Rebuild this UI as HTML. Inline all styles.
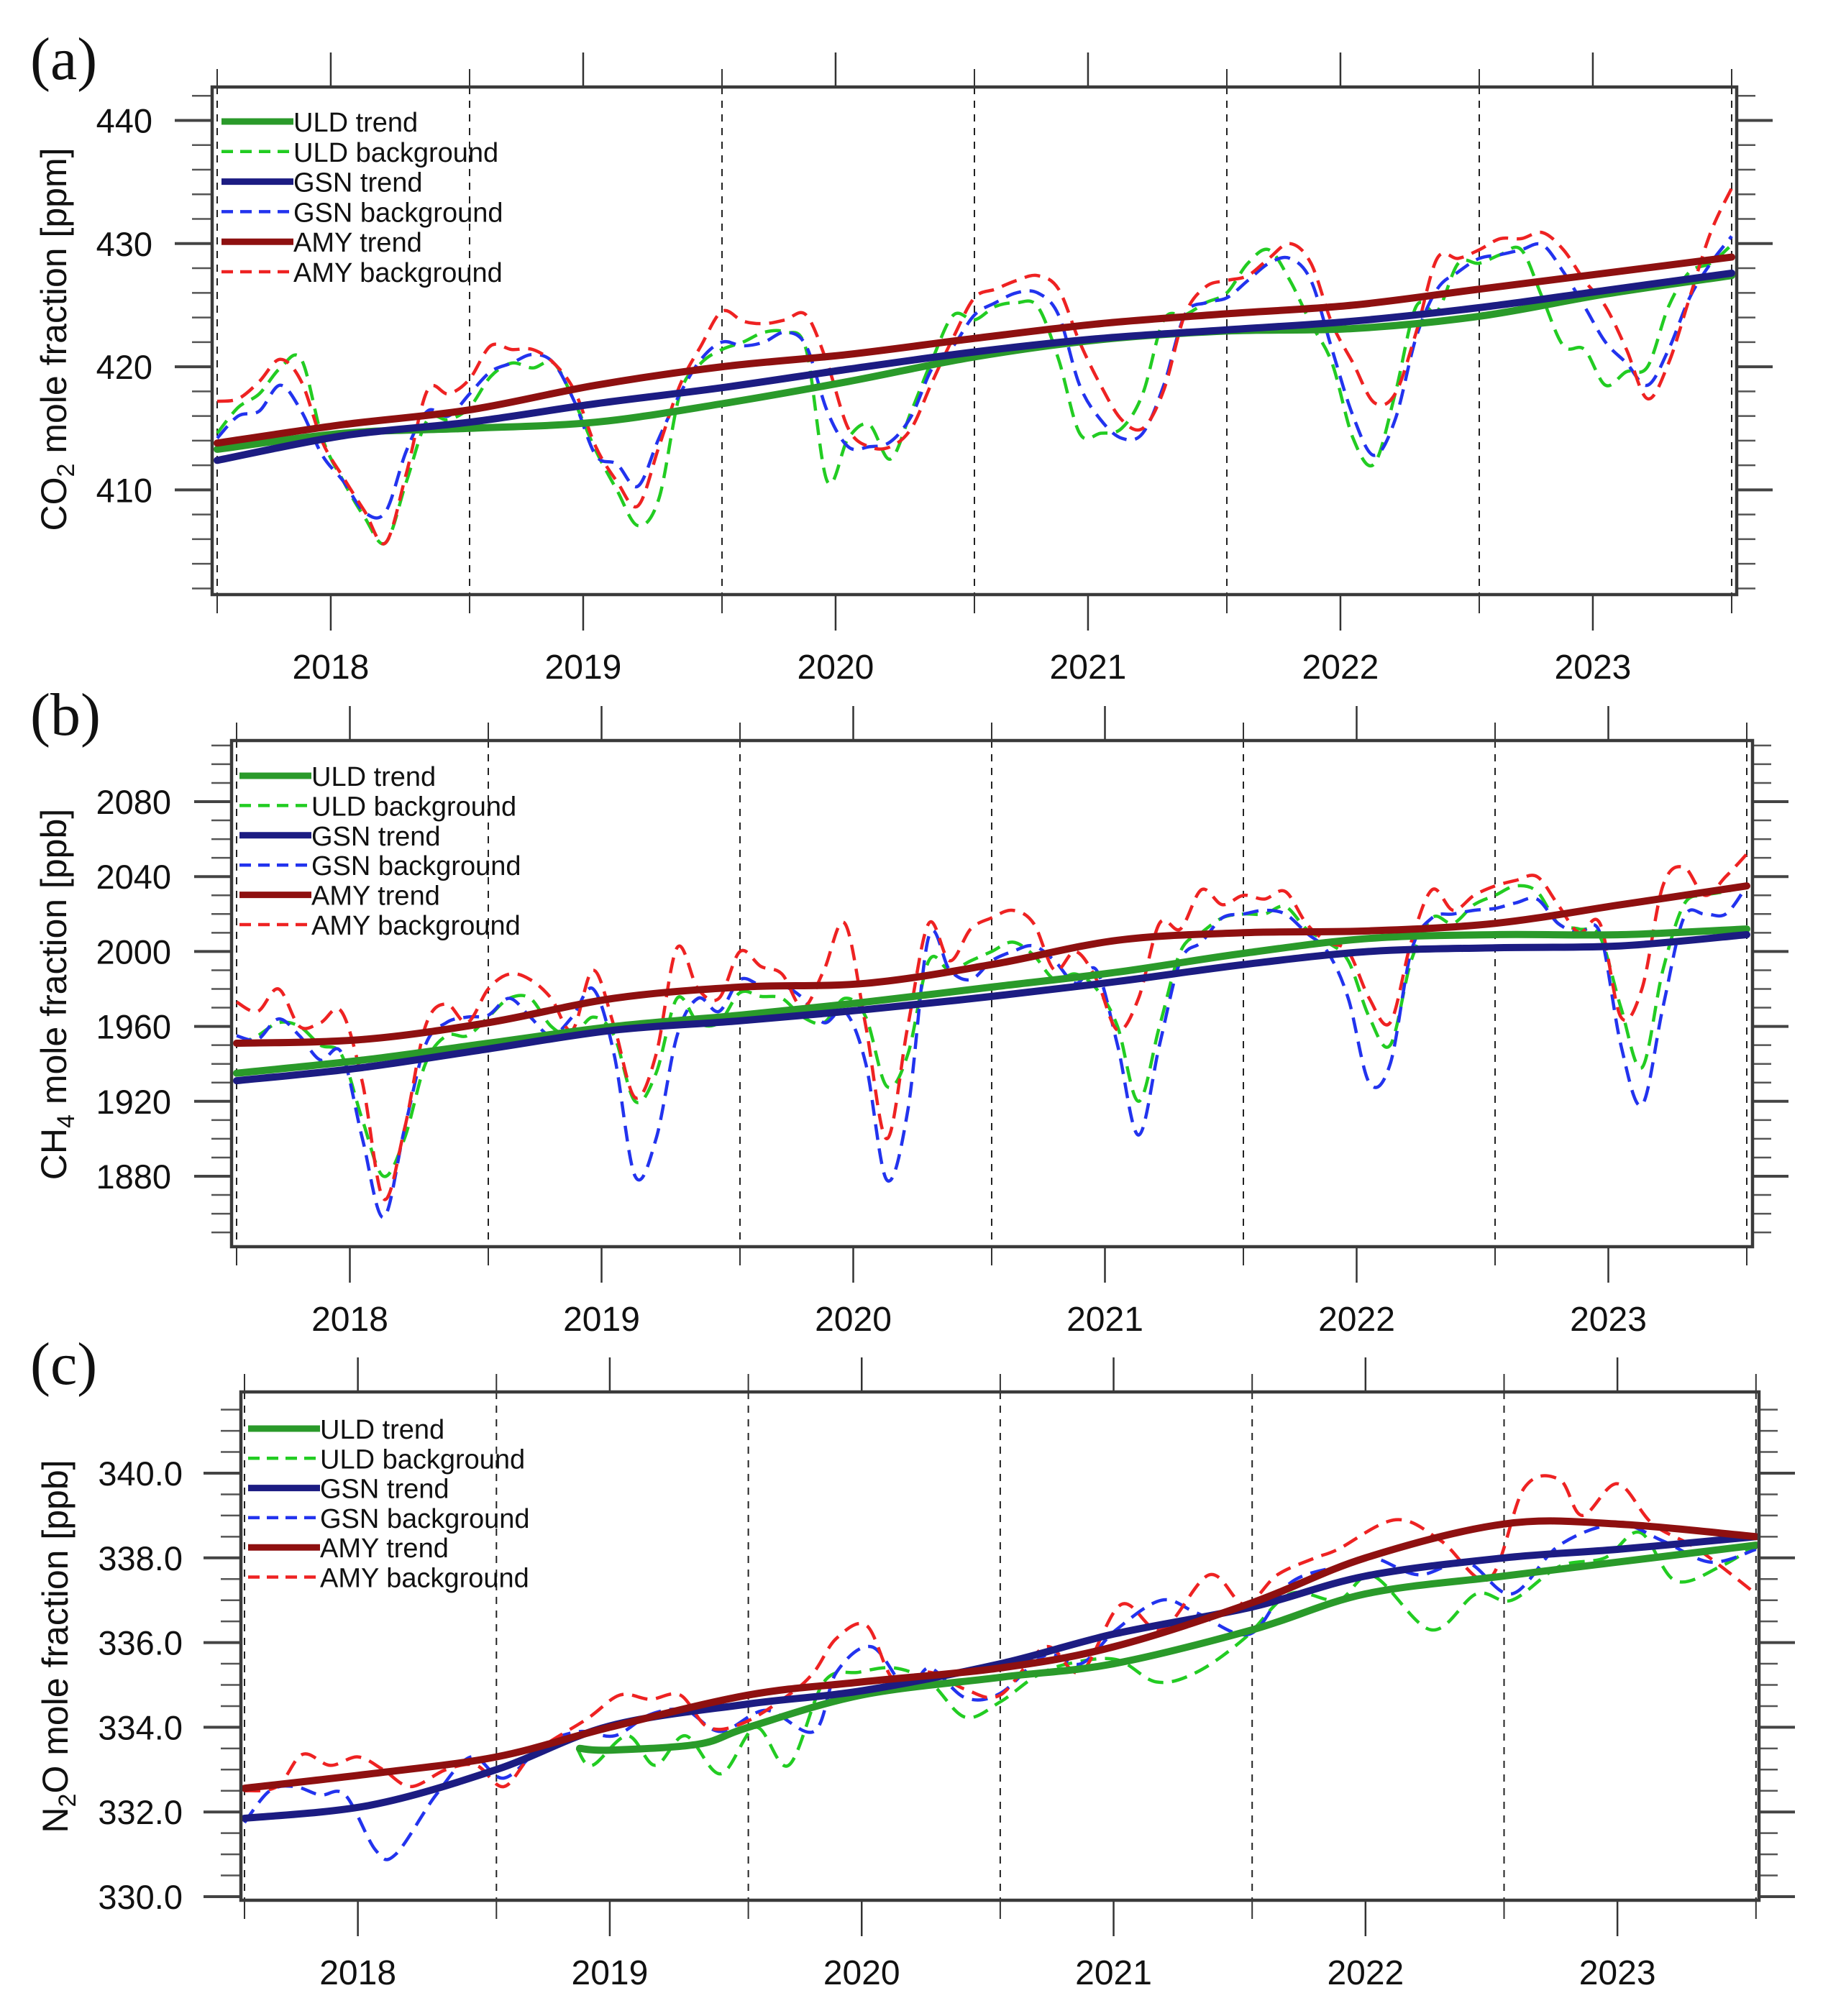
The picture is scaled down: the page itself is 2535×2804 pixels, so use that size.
<!DOCTYPE html>
<html><head><meta charset="utf-8"><title>GHG mole fractions</title>
<style>html,body{margin:0;padding:0;background:#fff}svg{display:block}</style></head>
<body>
<svg id="chart" xmlns="http://www.w3.org/2000/svg" width="2535" height="2804" viewBox="0 0 2535 2804" font-family="'Liberation Sans', sans-serif"></svg>
<script>
// ---------- DATA ----------
const months = Array.from({length:73},(_,i)=>2018+i/12);
const trendTimes = [2018,2018.5,2019,2019.5,2020,2020.5,2021,2021.5,2022,2022.5,2023,2023.5,2024];
const yearLabels = ["2018","2019","2020","2021","2022","2023"];

// CO2 (ppm)
const co2UldBg = [414.6,416.7,417.8,419.9,420.6,414.2,410.7,407.8,405.7,410.7,415.7,415.7,416.7,419.2,420.3,419.9,420.3,417.1,413.2,410,407.1,409.3,417.8,420.3,421.4,422,422.8,422.8,421.4,410.7,414.2,415.3,412.5,416.4,420.6,424.2,423.8,424.9,425.2,424.9,420.6,414.6,414.6,415,417.8,423.8,424.2,425.2,426,428.4,429.5,427,423.5,420.3,414.2,412.1,417.8,424.9,424.5,428.4,428.4,429.1,429.5,425.6,421.7,421.4,418.5,419.6,420,424.9,427.7,428.4,429.9];
const co2GsnBg = [414.2,416,416.4,418.5,416.4,412.8,410.7,408.2,408.2,413.2,416.4,416,417.8,419.6,420.3,421,420.3,417.1,412.8,412.1,410.3,414.2,417.8,420.6,422,421.7,422,422.8,421.7,416.4,413.5,413.5,413.9,416,419.9,421.7,424.2,425.2,426,426,424.2,418.5,415.7,414.2,414.6,418.5,424.2,425.2,425.6,427,428.4,428.8,427,421.4,416,412.8,415.7,422.4,426.3,427.7,428.8,429.1,429.5,429.9,427.7,424.9,422,420.3,418.5,421.4,425.6,428.4,430.6];
const co2AmyBg = [417.2,417.4,418.8,420.6,418.8,413.9,411,408.3,405.7,411.4,418.1,417.8,419,421.7,421.4,421.4,420.3,418,413.5,410.7,408.7,413.5,418.5,421.7,424.5,423.7,423.5,423.8,424.2,420.3,415,413.5,413.5,415,418.8,422.4,425.6,426.3,427,427.4,426.3,422,418.5,415.7,415,418.1,424.2,426.5,427,427.4,428.8,430,428.4,423.5,420.3,417.1,417.8,422.8,428.8,428.8,429.5,430.4,430.4,430.9,429.5,427,424.9,421.4,417.4,420.3,425.6,430.9,434.5];
const co2UldTrend = [413.3,414.6,415,415.5,417,418.8,420.8,422.2,422.9,423.1,424.1,425.9,427.4];
const co2GsnTrend = [412.4,414.4,415.5,417,418.3,419.8,421.2,422.3,423,423.7,424.8,426.2,427.6];
const co2AmyTrend = [413.8,415.3,416.5,418.5,420,421,422.3,423.5,424.3,425,426.3,427.6,428.9];
const co2Ticks = [410,420,430,440];

// CH4 (ppb)
const ch4UldBg = [1950,1955,1962,1960,1950,1945,1910,1880,1900,1940,1955,1955,1965,1975,1975,1960,1955,1965,1955,1920,1935,1975,1962,1962,1978,1976,1975,1965,1962,1975,1965,1928,1945,1995,1990,1995,2000,2005,1998,1985,1988,1980,1960,1920,1960,2000,2010,2018,2020,2020,2024,2012,2005,1995,1965,1950,1995,2018,2015,2025,2030,2035,2032,2015,2012,2008,1970,1938,1990,2025,2030,2032,2035];
const ch4GsnBg = [1955,1953,1964,1955,1942,1946,1900,1858,1905,1950,1962,1965,1966,1975,1965,1955,1965,1980,1945,1880,1900,1955,1975,1968,1985,1982,1982,1975,1962,1968,1940,1878,1915,2008,1990,1985,1995,2000,2003,1995,1983,1990,1950,1902,1950,1995,2005,2018,2020,2022,2020,2010,2000,1975,1930,1940,2000,2018,2020,2022,2023,2026,2028,2015,2010,2010,1950,1918,1970,2018,2020,2020,2035];
const ch4AmyBg = [1973,1968,1980,1960,1962,1968,1930,1868,1905,1960,1972,1962,1980,1988,1985,1975,1958,1990,1960,1922,1945,2002,1980,1975,2000,1992,1988,1970,1990,2015,1960,1900,1960,2015,1995,2012,2018,2022,2015,1990,2000,1985,1958,1975,2015,2012,2033,2025,2030,2028,2032,2015,2005,2000,1975,1962,2005,2033,2022,2030,2035,2038,2040,2025,2010,2015,1965,1980,2035,2045,2030,2040,2052];
const ch4UldTrend = [1935,1942,1951,1960,1966,1973,1981,1989,1999,2007,2009,2009,2012];
const ch4GsnTrend = [1931,1938,1948,1958,1963,1969,1976,1984,1993,2000,2002,2003,2009];
const ch4AmyTrend = [1951,1953,1962,1975,1981,1983,1993,2006,2010,2011,2015,2025,2035];
const ch4Ticks = [1880,1920,1960,2000,2040,2080];

// N2O (ppb)
const n2oTrendTimes = [2018,2018.5,2019,2019.45,2020,2020.45,2021,2021.45,2022,2022.45,2023,2023.45,2024];
const n2oGsnTrend = [331.85,332.16,333.0,334.03,334.55,334.86,335.5,336.2,336.84,337.57,338.0,338.2,338.5];
const n2oAmyTrend = [332.56,332.9,333.3,334.0,334.76,335.07,335.4,335.9,336.94,338.0,338.8,338.8,338.5];
const n2oUldTrendTimes = [2019.33,2019.45,2019.8,2020,2020.45,2021,2021.45,2022,2022.45,2023,2023.45,2024];
const n2oUldTrend = [333.5,333.46,333.6,334.0,334.76,335.18,335.5,336.3,337.15,337.57,337.9,338.3];
const n2oAmyBgTimes = [2018,2018.13,2018.23,2018.34,2018.45,2018.55,2018.66,2018.8,2018.92,2019.03,2019.15,2019.36,2019.49,2019.61,2019.73,2019.84,2019.98,2020.16,2020.26,2020.35,2020.47,2020.58,2020.72,2020.86,2021,2021.18,2021.32,2021.48,2021.64,2021.83,2021.97,2022.1,2022.25,2022.34,2022.57,2022.75,2022.94,2023.08,2023.22,2023.31,2023.45,2023.59,2023.77,2024];
const n2oAmyBg = [332.5,332.6,333.36,333.1,333.3,333.0,332.6,333.0,333.1,332.6,333.4,334.2,334.76,334.66,334.76,334.0,334.1,334.76,335.3,336.1,336.4,335.1,335.3,334.9,334.76,335.9,335.3,336.9,336.3,337.6,336.9,337.6,338.0,338.2,338.9,338.4,337.5,339.65,339.85,339.0,339.75,338.8,338.2,337.15];
const n2oGsnBgTimes = [2018,2018.1,2018.2,2018.3,2018.4,2018.52,2018.6,2018.76,2018.9,2019.03,2019.19,2019.33,2019.47,2019.61,2019.75,2019.89,2020.07,2020.26,2020.35,2020.49,2020.63,2020.72,2020.86,2021,2021.18,2021.32,2021.46,2021.64,2021.78,2021.99,2022.15,2022.34,2022.48,2022.66,2022.85,2023.03,2023.22,2023.45,2023.63,2023.82,2024];
const n2oGsnBg = [331.75,332.5,332.6,332.4,332.4,331.1,331.0,332.4,333.3,332.8,333.6,333.9,333.8,334.3,334.4,333.9,334.4,333.9,335.3,335.9,334.9,335.4,334.7,334.8,335.7,335.5,336.3,337.0,336.7,336.2,337.4,337.8,338.0,337.6,337.9,337.15,338.3,338.8,338.4,337.9,338.2];
const n2oUldBgTimes = [2019.32,2019.38,2019.52,2019.63,2019.75,2019.89,2020.03,2020.16,2020.3,2020.44,2020.58,2020.72,2020.86,2021,2021.14,2021.27,2021.46,2021.62,2021.78,2021.97,2022.15,2022.34,2022.48,2022.71,2022.89,2023.03,2023.22,2023.4,2023.54,2023.68,2023.86,2024];
const n2oUldBg = [333.5,333.1,333.8,333.1,333.8,332.9,334.0,333.1,335.07,335.3,335.4,335.07,334.24,334.6,335.2,335.5,335.6,335.07,335.3,336.1,337.15,337.0,337.57,336.3,337.15,337.0,337.8,338.0,338.6,337.46,337.8,338.3];
const n2oTicks = [330,332,334,336,338,340];

// ---------- DRAWING ----------
const NS = "http://www.w3.org/2000/svg";
const svg = document.getElementById("chart");
function mk(tag, attrs, parent){ const e=document.createElementNS(NS,tag); for(const k in attrs) e.setAttribute(k,attrs[k]); (parent||svg).appendChild(e); return e; }
function smooth(pts){
  let d=`M${pts[0][0].toFixed(1)},${pts[0][1].toFixed(1)}`;
  for(let i=0;i<pts.length-1;i++){
    const p0=pts[i-1]||pts[i], p1=pts[i], p2=pts[i+1], p3=pts[i+2]||pts[i+1];
    const c1=[p1[0]+(p2[0]-p0[0])/6, p1[1]+(p2[1]-p0[1])/6];
    const c2=[p2[0]-(p3[0]-p1[0])/6, p2[1]-(p3[1]-p1[1])/6];
    d+=` C${c1[0].toFixed(1)},${c1[1].toFixed(1)} ${c2[0].toFixed(1)},${c2[1].toFixed(1)} ${p2[0].toFixed(1)},${p2[1].toFixed(1)}`;
  }
  return d;
}
const COL = {uldT:"#2a9a2a", uldB:"#22cc22", gsnT:"#1c1c82", gsnB:"#2233ee", amyT:"#8e1010", amyB:"#ee2222"};

function panel(p){
  const g = mk("g",{});
  
  
  const X = t => p.x0 + (t-2018)*p.px;
  const Y = v => p.yRef - (v-p.vRef)*p.py;
  const lt = mk("text",{x:42,y:p.letterY,"font-family":"'Liberation Serif', serif","font-size":84,fill:"#111"},g);
  lt.textContent = p.letter;
  
  
  const cid="clip"+p.letter.replace(/\W/g,"");
  const cp=mk("clipPath",{id:cid},g); mk("rect",{x:p.L,y:p.T,width:p.R-p.L,height:p.B-p.T},cp);
  for(let yr=2018; yr<=2024; yr++){
    const l = mk("line",{x1:X(yr),x2:X(yr),y1:p.T,y2:p.B,stroke:"#222","stroke-width":2,"stroke-dasharray":"10 9"},g);
    
    
    mk("line",{x1:X(yr),x2:X(yr),y1:p.T-25,y2:p.T,stroke:"#333","stroke-width":2},g);
    mk("line",{x1:X(yr),x2:X(yr),y1:p.B,y2:p.B+26,stroke:"#333","stroke-width":2},g);
  }
  yearLabels.forEach((lab,i)=>{
    const xx = X(2018+i+0.45);
    mk("line",{x1:xx,x2:xx,y1:p.T-48,y2:p.T,stroke:"#333","stroke-width":2.5},g);
    mk("line",{x1:xx,x2:xx,y1:p.B,y2:p.B+50,stroke:"#333","stroke-width":2.5},g);
    const t = mk("text",{x:xx,y:p.B+117,"text-anchor":"middle","font-size":48,fill:"#111"},g);
    t.textContent = lab;
    
    
  });
  for(let v=p.minorStart; v<=p.minorEnd+1e-6; v+=p.minorStep){
    const yy=Y(v); if(yy<p.T||yy>p.B) continue;
    mk("line",{x1:p.L-28,x2:p.L,y1:yy,y2:yy,stroke:"#555","stroke-width":2.5},g);
    mk("line",{x1:p.R,x2:p.R+26,y1:yy,y2:yy,stroke:"#555","stroke-width":2.5},g);
  }
  p.ticks.forEach(v=>{
    const yy=Y(v);
    mk("line",{x1:p.L-52,x2:p.L,y1:yy,y2:yy,stroke:"#444","stroke-width":4},g);
    mk("line",{x1:p.R,x2:p.R+50,y1:yy,y2:yy,stroke:"#444","stroke-width":4},g);
    const t=mk("text",{x:p.labX,y:yy+17,"text-anchor":"end","font-size":47,fill:"#111"},g);
    t.textContent = p.fmt(v);
    
    
  });
  const at = mk("text",{x:0,y:0,"font-size":50,fill:"#111","text-anchor":"middle",transform:`translate(${p.titleX},${p.titleY}) rotate(-90)`},g);
  at.innerHTML = p.title;
  
  
  const dg = mk("g",{"clip-path":`url(#${cid})`},g);
  p.series.forEach(s=>{
    const pts = s.t.map((t,i)=>[X(t),Y(s.v[i])]);
    const path = mk("path",{d:smooth(pts),fill:"none",stroke:s.c,"stroke-width":s.dash?4.5:10,"stroke-dasharray":s.dash?"22 12":"none","stroke-linejoin":"round","stroke-linecap":s.dash?"butt":"round"},dg);
    
    
  });
  const box = mk("rect",{x:p.L,y:p.T,width:p.R-p.L,height:p.B-p.T,fill:"none",stroke:"#3a3a3a","stroke-width":4.5},g);
  
  
  const leg = [["ULD trend",COL.uldT,false],["ULD background",COL.uldB,true],["GSN trend",COL.gsnT,false],["GSN background",COL.gsnB,true],["AMY trend",COL.amyT,false],["AMY background",COL.amyB,true]];
  leg.forEach((e,i)=>{
    const yy = p.legY0 + i*p.legDy;
    const eg = mk("g",{},g);
    
    
    mk("line",{x1:p.legX,x2:p.legX+100,y1:yy,y2:yy,stroke:e[1],"stroke-width":e[2]?4.5:9,"stroke-dasharray":e[2]?"16 10":"none"},eg);
    const t=mk("text",{x:p.legX+100,y:yy+14,"font-size":38,fill:"#111"},eg);
    t.textContent=e[0];
  });
}

panel({name:"panel-a-co2",letter:"(a)",letterY:110,L:295,R:2415,T:121,B:827,x0:302,px:351,yRef:167.5,vRef:440,py:17.13,
  ticks:co2Ticks,minorStart:402,minorEnd:442,minorStep:2,labX:212,fmt:v=>String(v),
  title:'CO<tspan font-size="34" dy="11">2</tspan><tspan dy="-11"> mole fraction [ppm]</tspan>',titleX:92,titleY:472,
  legX:308,legY0:169,legDy:41.8,
  series:[
    {n:"uld-background-line",t:months,v:co2UldBg,c:COL.uldB,dash:true},
    {n:"gsn-background-line",t:months,v:co2GsnBg,c:COL.gsnB,dash:true},
    {n:"amy-background-line",t:months,v:co2AmyBg,c:COL.amyB,dash:true},
    {n:"uld-trend-line",t:trendTimes,v:co2UldTrend,c:COL.uldT},
    {n:"gsn-trend-line",t:trendTimes,v:co2GsnTrend,c:COL.gsnT},
    {n:"amy-trend-line",t:trendTimes,v:co2AmyTrend,c:COL.amyT}]});

panel({name:"panel-b-ch4",letter:"(b)",letterY:1022,L:322,R:2437,T:1030,B:1734,x0:329,px:350,yRef:1115,vRef:2080,py:2.605,
  ticks:ch4Ticks,minorStart:1850,minorEnd:2110,minorStep:10,labX:238,fmt:v=>String(v),
  title:'CH<tspan font-size="34" dy="11">4</tspan><tspan dy="-11"> mole fraction [ppb]</tspan>',titleX:92,titleY:1383,
  legX:333,legY0:1079,legDy:41.4,
  series:[
    {n:"uld-background-line",t:months,v:ch4UldBg,c:COL.uldB,dash:true},
    {n:"gsn-background-line",t:months,v:ch4GsnBg,c:COL.gsnB,dash:true},
    {n:"amy-background-line",t:months,v:ch4AmyBg,c:COL.amyB,dash:true},
    {n:"uld-trend-line",t:trendTimes,v:ch4UldTrend,c:COL.uldT},
    {n:"gsn-trend-line",t:trendTimes,v:ch4GsnTrend,c:COL.gsnT},
    {n:"amy-trend-line",t:trendTimes,v:ch4AmyTrend,c:COL.amyT}]});

panel({name:"panel-c-n2o",letter:"(c)",letterY:1925,L:335,R:2446,T:1936,B:2643,x0:340,px:350.3,yRef:2049,vRef:340,py:58.9,
  ticks:n2oTicks,minorStart:330,minorEnd:341.5,minorStep:0.5,labX:254,fmt:v=>v.toFixed(1),
  title:'N<tspan font-size="34" dy="11">2</tspan><tspan dy="-11">O mole fraction [ppb]</tspan>',titleX:94,titleY:2290,
  legX:345,legY0:1987,legDy:41.3,
  series:[
    {n:"uld-background-line",t:n2oUldBgTimes,v:n2oUldBg,c:COL.uldB,dash:true},
    {n:"gsn-background-line",t:n2oGsnBgTimes,v:n2oGsnBg,c:COL.gsnB,dash:true},
    {n:"amy-background-line",t:n2oAmyBgTimes,v:n2oAmyBg,c:COL.amyB,dash:true},
    {n:"uld-trend-line",t:n2oUldTrendTimes,v:n2oUldTrend,c:COL.uldT},
    {n:"gsn-trend-line",t:n2oTrendTimes,v:n2oGsnTrend,c:COL.gsnT},
    {n:"amy-trend-line",t:n2oTrendTimes,v:n2oAmyTrend,c:COL.amyT}]});
</script>
</body></html>
